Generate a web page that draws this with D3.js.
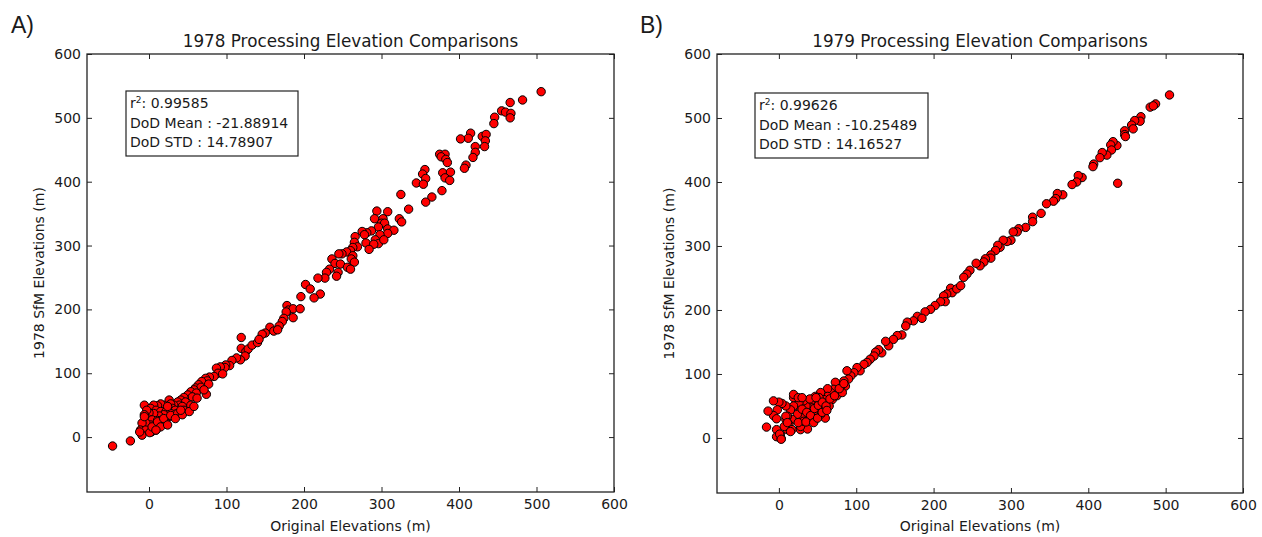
<!DOCTYPE html>
<html>
<head>
<meta charset="utf-8">
<script src="https://cdn.jsdelivr.net/npm/d3@7"></script>
<style>
body { margin: 0; background: #fff; }
svg { display: block; }
text { font-family: "DejaVu Sans", sans-serif; fill: #1a1a1a; }
</style>
</head>
<body>
<div id="chart"></div>
<script>
// axis setup shared by both panels
const xDomain = [-80, 600]
const yDomain = [-86, 600]
const xTicks = [0, 100, 200, 300, 400, 500, 600]
const yTicks = [0, 100, 200, 300, 400, 500, 600]

// panel A (1978)
const origA = [506,482,466,455,460,467,466,446,445,415,412,402,430,435,434,433,421,421,418,409,407,375,382,377,383,385,356,353,357,345,354,379,389,382,388,378,365,357,325,335,323,326,294,308,291,302,300,304,296,308,316,308,298,287,281,275,278,266,265,269,263,280,292,296,290,303,284,260,255,249,245,263,261,265,236,240,247,256,260,233,229,244,242,227,221,
  218,202,208,213,196,178,180,186,195,177,186,174,172,168,156,161,166,150,146,119,119,125,128,133,140,142,124,118,113,107,104,99,98,92,87,89,95,84,78,73,75,68,77,64,60,67,58,54,61,50,56,74,45,41,47,37,39,32,43,26,28,30,34,24,19,15,11,6,-6,2,9,15,22,28,34,26,19,13,6,0,-3,-6,-2,4,11,17,22,14,9,2,-4,-9,-11,-4,3,9,-9,-24,-47,-12,1,-6,
  4,11,19,28,37,45,54,62,71,15,9,24,34,43,52,58,41,24]
const sfmA = [541,528,524,511,509,507,500,501,491,476,468,467,471,474,464,455,455,446,438,426,421,443,443,439,435,430,419,412,405,398,396,414,415,406,402,386,376,368,380,357,342,337,354,353,342,342,335,335,329,326,324,319,317,323,320,322,317,314,305,298,297,304,309,303,302,309,294,292,290,287,287,284,279,274,279,272,271,266,263,263,258,258,252,249,224,
  249,239,232,218,220,206,199,201,201,196,187,186,181,174,172,166,168,163,161,156,139,134,138,144,148,153,127,121,124,120,112,113,109,110,108,100,99,95,94,92,88,87,83,82,77,78,74,71,69,66,63,67,62,58,55,55,50,50,48,58,52,45,42,48,50,52,49,50,50,45,42,40,40,37,36,32,35,33,37,38,42,35,29,27,26,27,22,19,17,19,22,22,11,11,8,11,3,-6,-14,8,7,32,
  16,24,29,34,37,42,50,61,74,16,11,19,29,35,40,48,42,48]

// panel B (1979)
const origB = [505,487,480,484,468,467,460,456,458,447,447,448,437,432,429,430,424,418,415,407,406,438,392,387,385,379,367,360,358,355,346,339,328,328,319,310,308,303,300,295,290,286,283,280,274,274,267,265,260,255,247,243,239,
  222,224,230,235,217,213,215,209,202,196,189,179,185,174,166,164,159,153,148,142,138,133,129,125,123,118,114,110,105,101,97,93,88,90,84,86,80,73,77,71,67,63,63,58,54,52,47,69,75,82,65,58,60,54,50,45,41,43,45,47,41,37,35,32,28,30,26,24,19,19,19,17,15,13,11,9,11,17,28,37,28,32,4,0,-7,-2,-7,-3,-14,-16,-3,2,-3,3,7,9,
  1,3,9,11,15,25,
  30,36,41,46,51,56,61,66,72,25,35,45,50,56,62,40,48,30,78,84]
const sfmB = [536,522,517,519,502,495,496,489,483,480,474,471,457,463,458,450,442,446,438,428,424,398,407,410,400,396,380,382,374,370,366,351,345,338,329,327,322,322,309,307,309,298,301,293,286,281,280,275,269,273,262,256,251,
  234,227,233,238,225,222,213,213,207,201,197,190,187,183,181,175,161,160,154,144,151,133,138,134,128,123,118,115,105,110,102,97,105,92,89,81,81,87,73,76,71,77,65,60,71,63,65,60,66,71,50,44,31,37,44,58,55,47,39,30,29,39,50,58,44,34,55,37,63,68,50,29,44,21,34,50,13,13,13,14,18,26,54,56,58,44,35,30,42,17,13,5,2,-1,18,29,
  6,-2,34,24,10,63,
  45,40,35,46,51,56,50,61,66,24,25,24,31,40,43,61,63,63,77,85]

const panels = [
  { label: "A)", title: "1978 Processing Elevation Comparisons", xs: origA, ys: sfmA,
    left: 87, right: 614, top: 54, bottom: 492, labelX: 11,
    stats: ["0.99585", "DoD Mean : -21.88914", "DoD STD : 14.78907"], box: [126, 91, 172, 65] },
  { label: "B)", title: "1979 Processing Elevation Comparisons", xs: origB, ys: sfmB,
    left: 717, right: 1243, top: 54, bottom: 493, labelX: 640,
    stats: ["0.99626", "DoD Mean : -10.25489", "DoD STD : 14.16527"], box: [755, 93, 173, 65] }
]

const width = 1262
const height = 537

const svg = d3.select("#chart").append("svg")
  .attr("width", width)
  .attr("height", height)
  .attr("viewBox", [0, 0, width, height])

svg.append("rect").attr("width", width).attr("height", height).attr("fill", "#fff")

function drawPanel(p) {
  const x = d3.scaleLinear(xDomain, [p.left, p.right])
  const y = d3.scaleLinear(yDomain, [p.bottom, p.top])
  const g = svg.append("g")

  // scatter
  g.append("g")
    .selectAll("circle")
    .data(d3.range(p.xs.length))
    .join("circle")
    .attr("cx", i => x(p.xs[i]))
    .attr("cy", i => y(p.ys[i]))
    .attr("r", 4.2)
    .attr("fill", "#ff0000")
    .attr("stroke", "#000")
    .attr("stroke-width", 1)

  // inward ticks on all four sides, labels only bottom and left
  const tickStyle = s => s.call(a => a.select(".domain").remove())
    .call(a => a.selectAll(".tick line").attr("stroke", "#222"))
    .call(a => a.selectAll(".tick text").attr("fill", "#1a1a1a")
      .style("font-family", "DejaVu Sans").style("font-size", "14px"))

  g.append("g").attr("transform", `translate(0,${p.bottom})`)
    .call(d3.axisBottom(x).tickValues(xTicks).tickSize(-5).tickPadding(7)).call(tickStyle)
  g.append("g").attr("transform", `translate(0,${p.top})`)
    .call(d3.axisTop(x).tickValues(xTicks).tickSize(-5).tickFormat("")).call(tickStyle)
  g.append("g").attr("transform", `translate(${p.left},0)`)
    .call(d3.axisLeft(y).tickValues(yTicks).tickSize(-5).tickPadding(6)).call(tickStyle)
  g.append("g").attr("transform", `translate(${p.right},0)`)
    .call(d3.axisRight(y).tickValues(yTicks).tickSize(-5).tickFormat("")).call(tickStyle)

  // frame
  g.append("rect")
    .attr("x", p.left).attr("y", p.top)
    .attr("width", p.right - p.left).attr("height", p.bottom - p.top)
    .attr("fill", "none").attr("stroke", "#222").attr("stroke-width", 1.3)

  g.append("text")
    .attr("x", (p.left + p.right) / 2).attr("y", 47)
    .attr("text-anchor", "middle").style("font-size", "16.8px")
    .text(p.title)

  g.append("text")
    .attr("x", (p.left + p.right) / 2).attr("y", 531)
    .attr("text-anchor", "middle").style("font-size", "14px")
    .text("Original Elevations (m)")

  g.append("text")
    .attr("transform", `translate(${p.left - 43},${(p.top + p.bottom) / 2}) rotate(-90)`)
    .attr("text-anchor", "middle").style("font-size", "14px")
    .text("1978 SfM Elevations (m)")

  g.append("text")
    .attr("x", p.labelX).attr("y", 33)
    .style("font-family", "Liberation Sans, Arial, sans-serif").style("font-size", "23px")
    .text(p.label)

  // stats box
  const [bx, by, bw, bh] = p.box
  g.append("rect")
    .attr("x", bx).attr("y", by).attr("width", bw).attr("height", bh)
    .attr("fill", "#fff").attr("stroke", "#222").attr("stroke-width", 1.2)
  const r2 = g.append("text").attr("x", bx + 4).attr("y", by + 17).style("font-size", "14px")
  r2.append("tspan").text("r")
  r2.append("tspan").attr("dy", -5).style("font-size", "9px").text("2")
  r2.append("tspan").attr("dy", 5).text(": " + p.stats[0])
  g.append("text").attr("x", bx + 4).attr("y", by + 36.5).style("font-size", "14px").text(p.stats[1])
  g.append("text").attr("x", bx + 4).attr("y", by + 55.5).style("font-size", "14px").text(p.stats[2])
}

panels.forEach(drawPanel)
</script>
</body>
</html>
